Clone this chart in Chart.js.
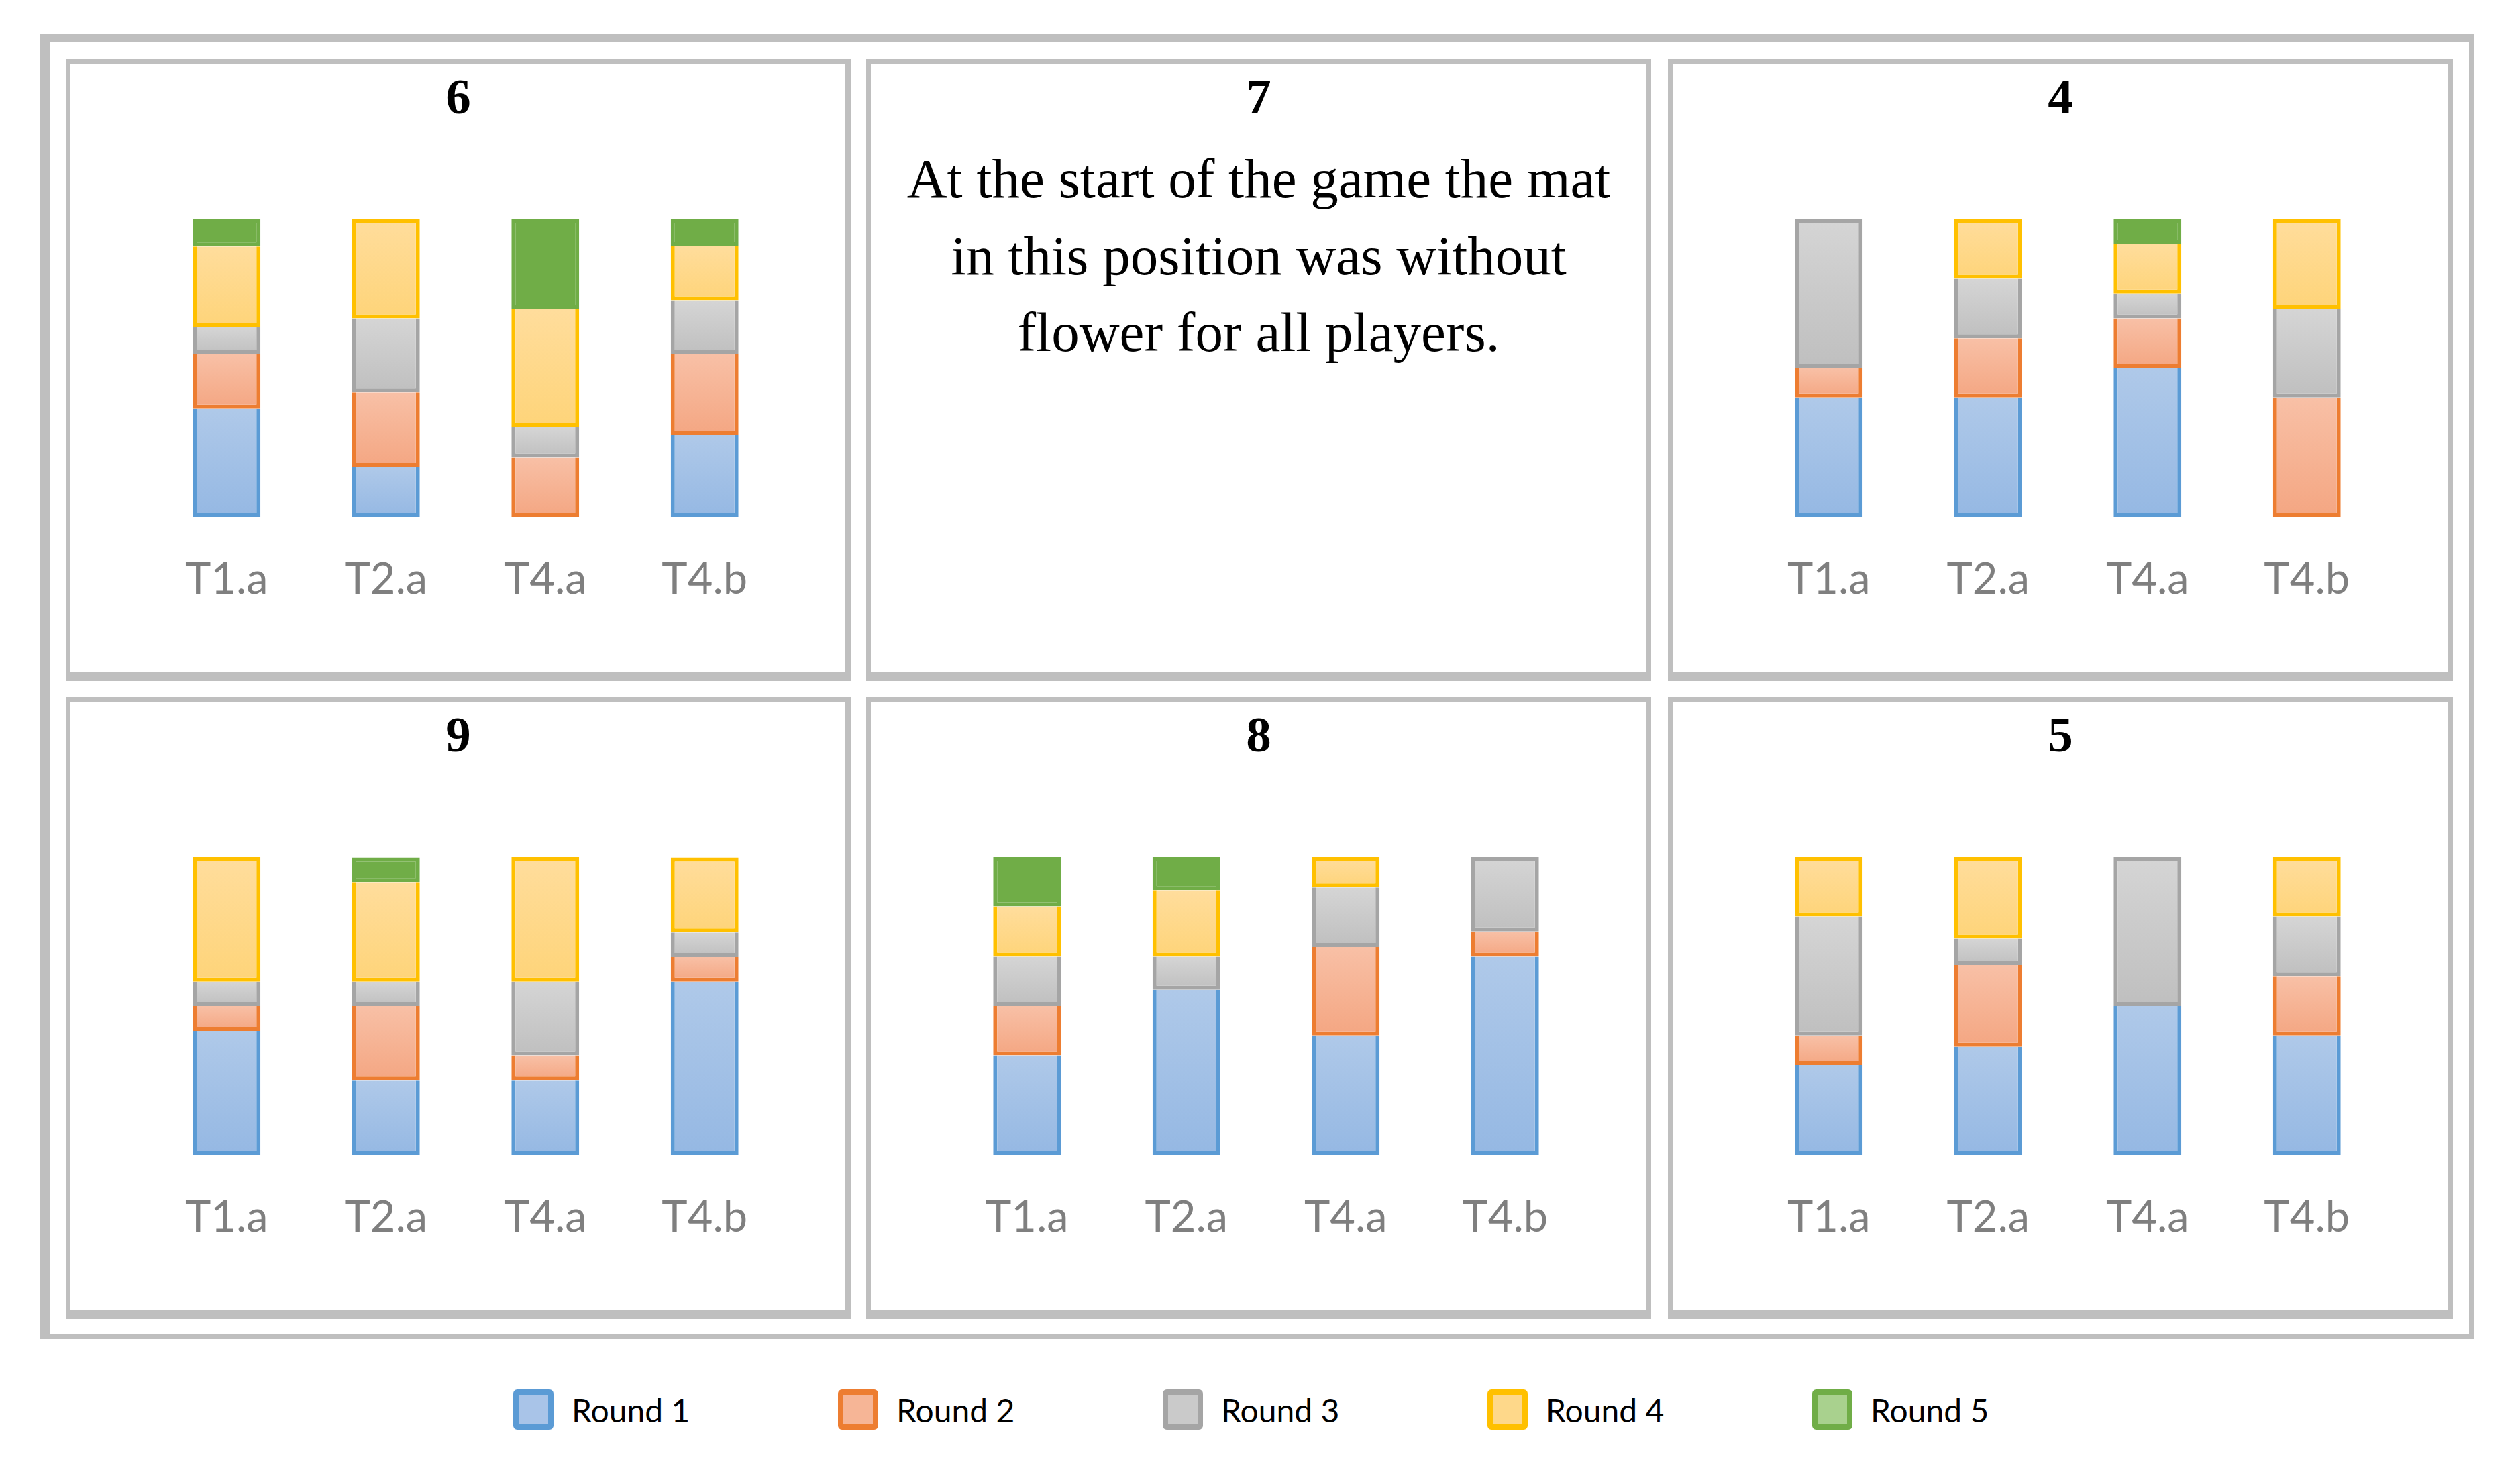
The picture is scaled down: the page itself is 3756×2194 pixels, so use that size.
<!DOCTYPE html>
<html>
<head>
<meta charset="utf-8">
<script src="https://cdn.jsdelivr.net/npm/chart.js@4"></script>
<style>
  body { margin: 0; background: #fff; width: 3756px; height: 2194px; position: relative; overflow: hidden; }
  .frame { position: absolute; left: 60px; top: 50px; width: 3627px; height: 1946px; box-sizing: border-box;
           border: solid #bfbfbf; border-width: 13px 7px 7px 14px; }
  .panel { position: absolute; width: 1170px; height: 927px; box-sizing: border-box;
           border: solid #bfbfbf; border-width: 7px 8px 14px 7px; }
  .panel canvas { position: absolute; left: -7px; top: -7px; }
  .legend-item { position: absolute; top: 2071px; height: 60px; display: flex; align-items: center;
                 font-family: Lato, sans-serif; font-size: 48px; color: #000; white-space: nowrap; }
  .legend-box { width: 60px; height: 60px; box-sizing: border-box; border: 8px solid; border-radius: 6px; margin-right: 27px; }
</style>
</head>
<body>
<div class="frame"></div>
<div id="legend"></div>

<script>
// categories on every x axis
const categories = ["T1.a", "T2.a", "T4.a", "T4.b"];
const roundLabels = ["Round 1", "Round 2", "Round 3", "Round 4", "Round 5"];

// panel titles, in the order the charts are drawn (7 has no chart)
const chartTitles = ["6", "4", "9", "8", "5"];

// share of players (%) per round, one row per panel (6, 4, 9, 8, 5)
const round1 = [[36.4, 16.7, 0, 27.3], [40, 40, 50, 0], [41.7, 25, 25, 58.3], [33.3, 55.6, 40, 66.7], [30, 36.4, 50, 40]];
const round2 = [[18.2, 25, 20, 27.3], [10, 20, 16.7, 40], [8.3, 25, 8.3, 8.3], [16.7, 0, 30, 8.3], [10, 27.3, 0, 20]];
const round3 = [[9.1, 25, 10, 18.2], [50, 20, 8.3, 30], [8.3, 8.3, 25, 8.3], [16.7, 11.1, 20, 25], [40, 9.1, 50, 20]];
const round4 = [[27.2, 33.3, 40, 18.2], [0, 20, 16.7, 30], [41.7, 33.3, 41.7, 25], [16.7, 22.2, 10, 0], [20, 27.3, 0, 20]];
const round5 = [[9.1, 0, 30, 9.1], [0, 0, 8.3, 0], [0, 8.3, 0, 0], [16.7, 11.1, 0, 0], [0, 0, 0, 0]];
const rounds = [round1, round2, round3, round4, round5];

const note7 = ["At the start of the game the mat", "in this position was without", "flower for all players."];

// colours
const fillTop = ["#afc9e9", "#f8c0a6", "#d5d5d5", "#ffdd9c", "#70ad47"];
const fillBottom = ["#95b8e3", "#f4a682", "#bfbfbf", "#fed479", "#70ad47"];
const borderColors = ["#5b9bd5", "#ed7d31", "#a5a5a5", "#ffc000", "#70ad47"];
const legendFill = ["#a9c4e8", "#f6b596", "#cacaca", "#fed88a", "#a9d18e"];

// panel boxes: [left, top]
const panelPos = { "6": [98, 88], "7": [1291, 88], "4": [2486, 88], "9": [98, 1039], "8": [1291, 1039], "5": [2486, 1039] };

function makePanel(title) {
  const div = document.createElement("div");
  div.className = "panel";
  div.style.left = panelPos[title][0] + "px";
  div.style.top = panelPos[title][1] + "px";
  const c = document.createElement("canvas");
  c.width = 1170;
  c.height = 927;
  c.style.width = "1170px";
  c.style.height = "927px";
  div.appendChild(c);
  document.body.appendChild(div);
  return c;
}

const titleFont = { family: "'Liberation Serif', serif", size: 75, weight: "bold" };

function segmentFill(ri) {
  return (ctx) => {
    if (ctx.type !== "data") return fillTop[ri];
    const chart = ctx.chart;
    const y = chart.scales.y;
    const sets = chart.data.datasets;
    let base = 0;
    for (let k = 0; k < ri; k++) base += sets[k].data[ctx.dataIndex] || 0;
    const v = sets[ri].data[ctx.dataIndex] || 0;
    const top = y.getPixelForValue(base + v);
    const bot = y.getPixelForValue(base);
    if (!isFinite(top) || !isFinite(bot) || top === bot) return fillTop[ri];
    const g = chart.ctx.createLinearGradient(0, top, 0, bot);
    g.addColorStop(0, fillTop[ri]);
    g.addColorStop(1, fillBottom[ri]);
    return g;
  };
}

// skip the top edge when another segment sits on it (upper border covers it)
function segmentSkip(ri) {
  return (ctx) => {
    if (ctx.type !== "data") return false;
    const sets = ctx.chart.data.datasets;
    for (let k = ri + 1; k < sets.length; k++) {
      if ((sets[k].data[ctx.dataIndex] || 0) > 0) return "end";
    }
    return false;
  };
}

chartTitles.forEach((title, pi) => {
  const canvas = makePanel(title);
  new Chart(canvas, {
    type: "bar",
    data: {
      labels: categories,
      datasets: rounds.map((r, ri) => ({
        label: roundLabels[ri],
        data: r[pi],
        backgroundColor: segmentFill(ri),
        borderColor: borderColors[ri],
        borderWidth: 6,
        borderSkipped: segmentSkip(ri),
        categoryPercentage: 1,
        barPercentage: 0.425,
      })),
    },
    options: {
      responsive: false,
      animation: false,
      layout: { padding: { left: 99, right: 99, top: 0, bottom: 57 } },
      plugins: {
        legend: { display: false },
        tooltip: { enabled: false },
        title: { display: true, text: title, color: "#000", font: titleFont, padding: { top: 17, bottom: 132 } },
      },
      scales: {
        x: {
          stacked: true,
          grid: { display: false, drawTicks: false },
          border: { display: false },
          ticks: { color: "#7f7f7f", font: { family: "Lato, sans-serif", size: 65 }, padding: 55 },
        },
        // invisible axis, only keeps the bars a bit right of the panel centre
        y: {
          stacked: true, min: 0, max: 100,
          grid: { display: false }, border: { display: false }, ticks: { display: false },
          afterFit: (scale) => { scale.width = 22; },
        },
      },
    },
  });
});

// panel 7: only a note
new Chart(makePanel("7"), {
  type: "bar",
  data: { labels: [], datasets: [] },
  options: {
    responsive: false,
    animation: false,
    plugins: {
      legend: { display: false },
      tooltip: { enabled: false },
      title: { display: true, text: "7", color: "#000", font: titleFont, padding: { top: 17, bottom: 0 } },
      subtitle: {
        display: true,
        text: note7,
        color: "#000",
        font: { family: "'Liberation Serif', serif", size: 83, lineHeight: 1.38 },
        padding: { top: 20, bottom: 0 },
      },
    },
    scales: { x: { display: false }, y: { display: false } },
  },
});

// legend below the panels
const legendEl = document.getElementById("legend");
roundLabels.forEach((lab, i) => {
  const item = document.createElement("div");
  item.className = "legend-item";
  item.style.left = 765 + i * 484 + "px";
  const box = document.createElement("span");
  box.className = "legend-box";
  box.style.borderColor = borderColors[i];
  box.style.background = legendFill[i];
  item.appendChild(box);
  item.appendChild(document.createTextNode(lab));
  legendEl.appendChild(item);
});
</script>
</body>
</html>
